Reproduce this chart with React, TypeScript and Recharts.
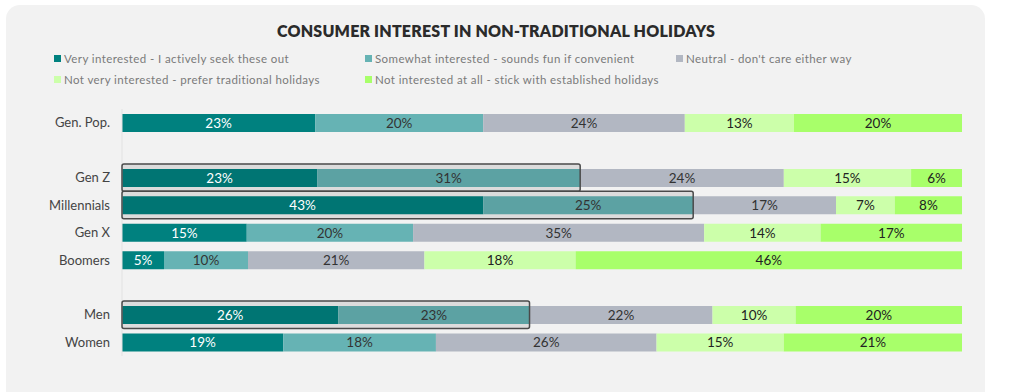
import React from 'react';
import { BarChart, Bar, XAxis, YAxis, LabelList, ReferenceArea } from 'recharts';

// rows (blank strings are the spacer rows)
const categories = ['Gen. Pop.', '', 'Gen Z', 'Millennials', 'Gen X', 'Boomers', ' ', 'Men', 'Women'];

const veryInterested = [23, null, 23, 43, 15, 5, null, 26, 19];
const somewhatInterested = [20, null, 31, 25, 20, 10, null, 23, 18];
const neutral = [24, null, 24, 17, 35, 21, null, 22, 26];
const notVery = [13, null, 15, 7, 14, 18, null, 10, 15];
const notAtAll = [20, null, 6, 8, 17, 46, null, 20, 21];

const highlighted = ['Gen Z', 'Millennials', 'Men'];

const series = [
  { key: 'very', name: 'Very interested - I actively seek these out', values: veryInterested, color: '#00817f', text: '#ffffff' },
  { key: 'somewhat', name: 'Somewhat interested - sounds fun if convenient', values: somewhatInterested, color: '#66b3b4', text: '#333333' },
  { key: 'neutral', name: "Neutral - don't care either way", values: neutral, color: '#b2b7c2', text: '#333333' },
  { key: 'notVery', name: 'Not very interested - prefer traditional holidays', values: notVery, color: '#ccffaa', text: '#222222' },
  { key: 'notAtAll', name: 'Not interested at all - stick with established holidays', values: notAtAll, color: '#a8ff6a', text: '#222222' },
];

const data = categories.map((name, i) => {
  const row: any = { name };
  series.forEach((s) => {
    row[s.key] = s.values[i];
  });
  return row;
});

const font = 'Lato, "Noto Sans", sans-serif';

const pct = (v: any) => (v === null || v === undefined ? '' : `${v}%`);

export default function App() {
  return (
    <div style={{ position: 'absolute', left: 0, top: 0, width: 1024, height: 392, background: '#fff', overflow: 'hidden', fontFamily: font }}>
      <div style={{ position: 'absolute', left: 6, top: 5, width: 979, height: 420, background: '#f2f2f2', borderRadius: 14 }} />
      <div style={{ position: 'absolute', left: 0, top: 21, width: 992, textAlign: 'center', fontSize: 16, fontWeight: 800, color: '#2b2b2b', letterSpacing: 0.2 }}>
        CONSUMER INTEREST IN NON-TRADITIONAL HOLIDAYS
      </div>
      {series.map((s, i) => (
        <div
          key={s.key}
          style={{
            position: 'absolute',
            left: [54, 365, 676][i % 3],
            top: i < 3 ? 52 : 73,
            fontSize: 11.5,
            color: '#7a7a7a',
            letterSpacing: 0.4,
            whiteSpace: 'nowrap',
            display: 'flex',
            alignItems: 'center',
          }}
        >
          <span style={{ display: 'inline-block', width: 7, height: 7, background: s.color, marginRight: 3 }} />
          {s.name}
        </div>
      ))}
      <div style={{ position: 'absolute', left: 0, top: 0 }}>
        <BarChart
          width={1024}
          height={392}
          data={data}
          layout="vertical"
          stackOffset="expand"
          barSize={18}
          margin={{ top: 109, right: 62, bottom: 36, left: 0 }}
        >
          <XAxis type="number" domain={[0, 1]} hide />
          <YAxis
            type="category"
            dataKey="name"
            width={122}
            tickSize={0}
            tickMargin={12}
            axisLine={{ stroke: '#e2e2e2' }}
            tickLine={false}
            tick={{ fill: '#444444', fontSize: 13, fontFamily: font }}
            interval={0}
          />
          {series.map((s) => (
            <Bar key={s.key} dataKey={s.key} name={s.name} stackId="a" fill={s.color} isAnimationActive={false}>
              <LabelList
                dataKey={s.key}
                position="center"
                formatter={pct}
                fill={s.text}
                style={{ fontSize: 13.5, fontFamily: font }}
              />
            </Bar>
          ))}
          {highlighted.map((h) => {
            const i = categories.indexOf(h);
            const total = series.reduce((a, s) => a + (s.values[i] || 0), 0);
            const end = ((veryInterested[i] || 0) + (somewhatInterested[i] || 0)) / total;
            return (
              <ReferenceArea
                key={h}
                y1={h}
                y2={h}
                x1={0}
                x2={end}
                fill="#000000"
                fillOpacity={0.09}
                stroke="#4a4a4a"
                strokeWidth={1.5}
                radius={2}
                zIndex={1500}
              />
            );
          })}
        </BarChart>
      </div>
    </div>
  );
}
